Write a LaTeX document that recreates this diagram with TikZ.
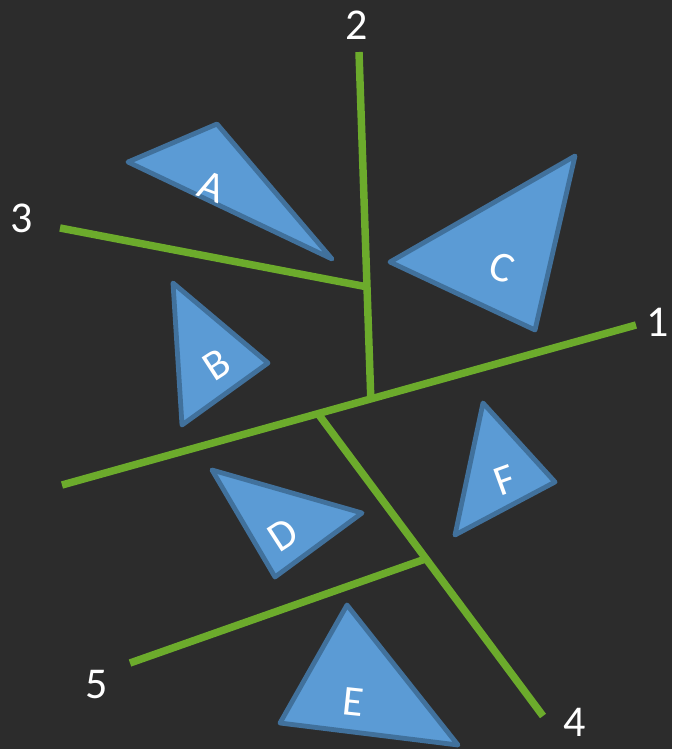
\documentclass[tikz,border=0pt]{standalone}
\usepackage{fontspec}
\setmainfont{Carlito}
\usepackage{xcolor}
\usepackage{tikz}
\usetikzlibrary{calc}

\definecolor{board}{RGB}{44,44,44}
\definecolor{chalkgreen}{RGB}{108,171,44}
\definecolor{trifill}{RGB}{91,155,213}
\definecolor{triedge}{RGB}{65,113,156}

\begin{document}
\begin{tikzpicture}[
    x=0.75pt, y=-0.75pt,
    cut/.style={draw=chalkgreen, line width=5.6pt},
    tri/.style={fill=trifill, draw=triedge, line width=3.6pt, line join=round},
    num/.style={text=white, font=\fontsize{33}{40}\selectfont, inner sep=0pt},
    lbl/.style={text=white, font=\fontsize{32}{38}\selectfont, inner sep=0pt},
]

% Board
\fill[board] (0,0) rectangle (672,749);

% Cut ends
\coordinate (c1a) at (62,485);
\coordinate (c1b) at (636,325);
\coordinate (c2a) at (359,52);
\coordinate (c3a) at (60,228);
\coordinate (c4b) at (543,716);
\coordinate (c5a) at (130,663);
\coordinate (j2) at ($(c1a)!0.538!(c1b)$);
\coordinate (j4) at ($(c1a)!0.446!(c1b)$);
\coordinate (j3) at ($(c2a)!0.677!(j2)$);
\coordinate (j5) at ($(j4)!0.48!(c4b)$);

% Cuts
\draw[cut] (c1a) -- (c1b);
\draw[cut] (c2a) -- (j2);
\draw[cut] (c3a) -- (j3);
\draw[cut] (j4) -- (c4b);
\draw[cut] (c5a) -- (j5);

% Cut numbers
\node[num] (n1) at (658,322) {1};
\node[num] (n2) at (357,25) {2};
\node[num] (n3) at (22,218) {3};
\node[num] (n4) at (575,722) {4};
\node[num] (n5) at (97,685) {5};

% Pieces
\draw[tri] (128,162) -- (217,124) -- (332,259) -- cycle;
\node[lbl, rotate=-20] (A) at (212,187) {A};

\draw[tri] (173,283) -- (268,363) -- (182,425) -- cycle;
\node[lbl, rotate=33] (B) at (217,365) {B};

\draw[tri] (390,262) -- (575,156) -- (535,330) -- cycle;
\node[lbl, rotate=-20] (C) at (502,268) {C};

\draw[tri] (212,470) -- (362,513) -- (275,577) -- cycle;
\node[lbl, rotate=33] (D) at (283,535) {D};

\draw[tri] (347,605) -- (458,745) -- (280,723) -- cycle;
\node[lbl, rotate=-6] (E) at (353,702) {E};

\draw[tri] (483,403) -- (555,482) -- (455,535) -- cycle;
\node[lbl, rotate=20] (F) at (505,480) {F};

\end{tikzpicture}
\end{document}
